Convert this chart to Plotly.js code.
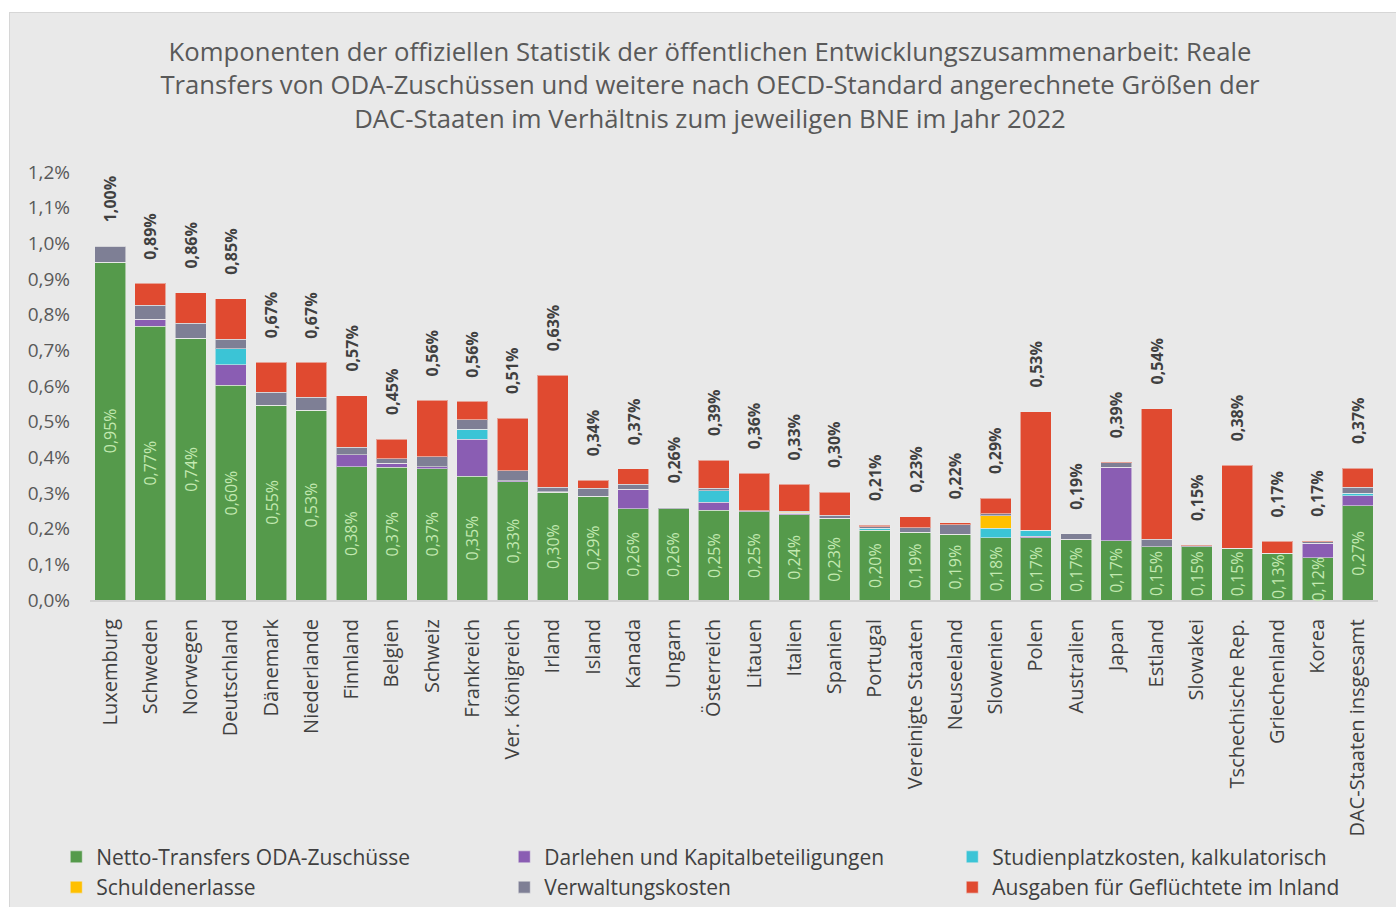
<!DOCTYPE html>
<html>
<head>
<meta charset="utf-8">
<script src="https://cdn.plot.ly/plotly-3.0.1.min.js"></script>
<style>
html,body{margin:0;padding:0;background:#ffffff;overflow:hidden;width:1396px;height:907px;}
#chart{position:absolute;left:9px;top:12px;width:1400px;height:900px;border:1px solid #d6d6d6;box-sizing:border-box;}
</style>
</head>
<body>
<div id="chart"></div>
<script>
const categories = ['Luxemburg','Schweden','Norwegen','Deutschland','Dänemark','Niederlande','Finnland','Belgien','Schweiz','Frankreich','Ver. Königreich','Irland','Island','Kanada','Ungarn','Österreich','Litauen','Italien','Spanien','Portugal','Vereinigte Staaten','Neuseeland','Slowenien','Polen','Australien','Japan','Estland','Slowakei','Tschechische Rep.','Griechenland','Korea','DAC-Staaten insgesamt'];

const nettoTransfers = [0.947,0.767,0.734,0.602,0.546,0.532,0.373,0.372,0.368,0.347,0.331,0.302,0.291,0.256,0.256,0.251,0.247,0.239,0.229,0.195,0.190,0.184,0.175,0.175,0.169,0.166,0.150,0.150,0.145,0.131,0.118,0.264];
const darlehen       = [0,0.020,0,0.058,0,0,0.034,0.011,0.006,0.104,0.004,0,0,0.054,0,0.023,0,0.004,0,0,0,0,0,0.004,0.002,0.206,0,0,0,0,0.041,0.029];
const studienplatz   = [0,0,0,0.044,0,0,0,0,0,0.028,0,0,0,0,0,0.032,0,0,0,0.006,0,0,0.026,0.017,0,0,0,0,0,0,0,0.007];
const schulden       = [0,0,0,0,0,0,0,0,0,0,0,0.002,0,0,0,0,0,0.003,0,0,0,0,0.035,0,0,0,0,0,0,0,0,0];
const verwaltung     = [0.045,0.039,0.042,0.027,0.036,0.036,0.021,0.013,0.027,0.026,0.027,0.012,0.022,0.015,0.003,0.007,0.003,0.003,0.008,0.004,0.013,0.027,0.006,0,0.015,0.013,0.020,0.002,0,0,0.004,0.016];
const gefluechtete   = [0,0.062,0.085,0.113,0.085,0.098,0.144,0.055,0.159,0.052,0.147,0.314,0.023,0.043,0,0.079,0.106,0.076,0.065,0.005,0.031,0.005,0.043,0.332,0,0.002,0.366,0.002,0.233,0.034,0.002,0.054];

const totalLabels = [1.00,0.89,0.86,0.85,0.67,0.67,0.57,0.45,0.56,0.56,0.51,0.63,0.34,0.37,0.26,0.39,0.36,0.33,0.30,0.21,0.23,0.22,0.29,0.53,0.19,0.39,0.54,0.15,0.38,0.17,0.17,0.37];
const nettoLabels = [0.95,0.77,0.74,0.60,0.55,0.53,0.38,0.37,0.37,0.35,0.33,0.30,0.29,0.26,0.26,0.25,0.25,0.24,0.23,0.20,0.19,0.19,0.18,0.17,0.17,0.17,0.15,0.15,0.15,0.13,0.12,0.27];

const seriesNames = ['Netto-Transfers ODA-Zuschüsse','Darlehen und Kapitalbeteiligungen','Studienplatzkosten, kalkulatorisch','Schuldenerlasse','Verwaltungskosten','Ausgaben für Geflüchtete im Inland'];
const seriesData = [nettoTransfers, darlehen, studienplatz, schulden, verwaltung, gefluechtete];
const seriesColors = ['#559a4b','#8a5db3','#3bc4d6','#ffc000','#7e7f95','#e04a30'];

const FONT = 'Open Sans, DejaVu Sans, sans-serif';
const fmt = v => v.toFixed(2).replace('.', ',') + '%';

const traces = seriesData.map((d, i) => ({
  type: 'bar',
  name: seriesNames[i],
  x: categories,
  y: d,
  marker: {color: seriesColors[i], line: {color: 'rgba(235,235,235,0.55)', width: 1}},
  hoverinfo: 'x+y+name'
}));

const annotations = [];
categories.forEach((c, k) => {
  const top = seriesData.reduce((s, arr) => s + arr[k], 0);
  annotations.push({
    x: c, y: top, xref: 'x', yref: 'y',
    text: '<b>' + fmt(totalLabels[k]) + '</b>',
    textangle: -90, showarrow: false, yanchor: 'bottom', xanchor: 'center',
    yshift: 22,
    font: {family: FONT, size: 16, color: '#404040'}
  });
  annotations.push({
    x: c, y: nettoTransfers[k] / 2, xref: 'x', yref: 'y',
    text: fmt(nettoLabels[k]),
    textangle: -90, showarrow: false, yanchor: 'middle', xanchor: 'center',
    font: {family: FONT, size: 16, color: '#c2e9b0'}
  });
});

const layout = {
  width: 1400, height: 900,
  paper_bgcolor: '#e9e9e9', plot_bgcolor: '#e9e9e9',
  font: {family: FONT, color: '#595959'},
  separators: ', ',
  title: {
    text: 'Komponenten der offiziellen Statistik der öffentlichen Entwicklungszusammenarbeit: Reale<br>Transfers von ODA-Zuschüssen und weitere nach OECD-Standard angerechnete Größen der<br>DAC-Staaten im Verhältnis zum jeweiligen BNE im Jahr 2022',
    font: {family: FONT, size: 25.7, color: '#595959'},
    x: 0.5, xanchor: 'center', y: 0.947, yanchor: 'top'
  },
  barmode: 'stack',
  bargap: 0.23,
  margin: {l: 80, r: 32, t: 159, b: 313, autoexpand: false},
  xaxis: {
    type: 'category', tickangle: -90,
    tickfont: {family: FONT, size: 20, color: '#404040'},
    ticklabelstandoff: 9,
    showline: true, linecolor: '#d2d2d2', linewidth: 2,
    ticks: '', showgrid: false, fixedrange: true
  },
  yaxis: {
    range: [0, 1.2], dtick: 0.1, tickformat: '.1f', ticksuffix: '%',
    tickfont: {family: FONT, size: 19, color: '#595959'},
    ticklabelstandoff: 19,
    showgrid: false, zeroline: false, showline: false, ticks: '',
    fixedrange: true
  },
  legend: {
    orientation: 'h', x: -0.0262, xanchor: 'left', y: -0.553, yanchor: 'top',
    traceorder: 'normal',
    font: {family: FONT, size: 21, color: '#404040'},
    entrywidth: 403, entrywidthmode: 'pixels',
    bgcolor: 'rgba(0,0,0,0)', tracegroupgap: 0
  },
  annotations: annotations,
  showlegend: true
};

Plotly.newPlot('chart', traces, layout, {displayModeBar: false, staticPlot: true});
</script>
</body>
</html>
